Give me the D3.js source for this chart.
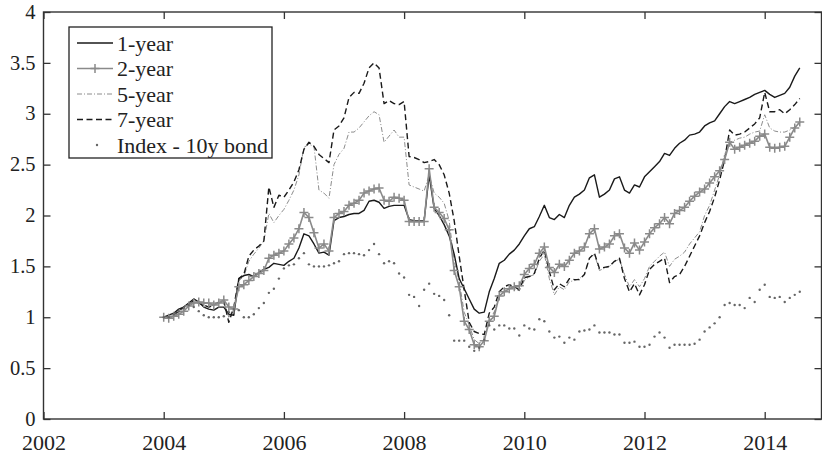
<!DOCTYPE html>
<html>
<head>
<meta charset="utf-8">
<script src="https://cdn.jsdelivr.net/npm/d3@7"></script>
<style>
  html, body { margin: 0; padding: 0; background: #fff; }
  svg { display: block; font-family: "Liberation Serif", "DejaVu Serif", serif; }
</style>
</head>
<body>
<div id="chart"></div>
<script>
// monthly observations starting Jan 2004
const startYear = 2004;

const oneYear = [
	1.00, 1.02, 1.04, 1.08, 1.10, 1.14, 1.18, 1.15, 1.10, 1.08, 1.07, 1.10,
	1.10, 1.03, 1.02, 1.38, 1.41, 1.42, 1.40, 1.44, 1.47, 1.49, 1.53, 1.52,
	1.51, 1.55, 1.58, 1.68, 1.82, 1.80, 1.72, 1.63, 1.64, 1.61, 1.95, 1.98,
	1.99, 2.01, 2.02, 2.02, 2.05, 2.14, 2.15, 2.13, 2.07, 2.09, 2.10, 2.10,
	2.10, 1.96, 1.95, 1.95, 1.95, 2.40, 2.07, 2.00, 1.91, 1.80, 1.62, 1.38,
	1.28, 1.18, 1.08, 1.04, 1.05, 1.25, 1.38, 1.53, 1.56, 1.62, 1.66, 1.72,
	1.80, 1.87, 1.89, 1.99, 2.10, 1.98, 1.96, 2.01, 1.98, 2.10, 2.18, 2.21,
	2.25, 2.37, 2.40, 2.18, 2.21, 2.25, 2.36, 2.38, 2.25, 2.22, 2.30, 2.28,
	2.38, 2.43, 2.48, 2.53, 2.61, 2.59, 2.66, 2.71, 2.74, 2.79, 2.80, 2.82,
	2.88, 2.91, 2.93, 3.00, 3.07, 3.12, 3.10, 3.12, 3.14, 3.16, 3.19, 3.21,
	3.23, 3.19, 3.16, 3.18, 3.20, 3.26, 3.37, 3.45
];

const twoYear = [
	1.00, 0.99, 1.01, 1.03, 1.06, 1.11, 1.14, 1.15, 1.14, 1.14, 1.12, 1.14,
	1.17, 1.10, 1.08, 1.30, 1.32, 1.36, 1.40, 1.43, 1.46, 1.58, 1.61, 1.63,
	1.65, 1.72, 1.78, 1.87, 2.03, 1.98, 1.83, 1.68, 1.72, 1.65, 1.98, 2.02,
	2.04, 2.10, 2.12, 2.15, 2.22, 2.24, 2.26, 2.27, 2.15, 2.14, 2.18, 2.17,
	2.15, 1.94, 1.94, 1.94, 1.94, 2.46, 2.08, 2.03, 1.97, 1.86, 1.46, 1.30,
	0.96, 0.88, 0.73, 0.71, 0.77, 0.96, 1.01, 1.21, 1.25, 1.28, 1.30, 1.31,
	1.42, 1.48, 1.52, 1.63, 1.69, 1.49, 1.44, 1.52, 1.50, 1.56, 1.63, 1.65,
	1.69, 1.82, 1.87, 1.67, 1.69, 1.72, 1.80, 1.82, 1.68, 1.63, 1.73, 1.66,
	1.74, 1.82, 1.88, 1.92, 1.98, 1.92, 2.02, 2.05, 2.08, 2.14, 2.19, 2.23,
	2.26, 2.32, 2.38, 2.44, 2.55, 2.72, 2.65, 2.67, 2.69, 2.71, 2.73, 2.78,
	2.80, 2.67, 2.66, 2.67, 2.68, 2.77, 2.86, 2.92
];

const fiveYear = [
	1.00, 1.00, 1.02, 1.05, 1.09, 1.12, 1.15, 1.14, 1.12, 1.10, 1.12, 1.14,
	1.15, 1.00, 1.08, 1.36, 1.40, 1.55, 1.62, 1.68, 1.75, 2.02, 1.93, 2.00,
	2.06, 2.15, 2.25, 2.40, 2.67, 2.70, 2.68, 2.25, 2.22, 2.17, 2.50, 2.60,
	2.66, 2.82, 2.82, 2.86, 2.92, 2.98, 3.02, 2.99, 2.72, 2.78, 2.84, 2.77,
	2.77, 2.30, 2.28, 2.26, 2.24, 2.40, 2.22, 2.18, 2.12, 1.95, 1.55, 1.35,
	1.05, 0.92, 0.78, 0.74, 0.78, 0.98, 1.05, 1.20, 1.26, 1.28, 1.28, 1.26,
	1.36, 1.40, 1.42, 1.55, 1.62, 1.38, 1.22, 1.30, 1.27, 1.35, 1.36, 1.38,
	1.42, 1.58, 1.62, 1.46, 1.48, 1.50, 1.55, 1.57, 1.42, 1.30, 1.37, 1.30,
	1.38, 1.50, 1.55, 1.60, 1.64, 1.50, 1.57, 1.60, 1.64, 1.72, 1.78, 1.84,
	2.00, 2.10, 2.25, 2.40, 2.60, 2.72, 2.74, 2.76, 2.77, 2.80, 2.82, 2.83,
	2.99, 2.86, 2.83, 2.82, 2.82, 2.84, 2.87, 2.92
];

const sevenYear = [
	1.00, 1.00, 1.02, 1.06, 1.10, 1.13, 1.16, 1.14, 1.12, 1.10, 1.12, 1.15,
	1.16, 0.95, 1.10, 1.38, 1.42, 1.60, 1.66, 1.70, 1.75, 2.28, 2.08, 2.20,
	2.18, 2.25, 2.33, 2.45, 2.65, 2.72, 2.68, 2.60, 2.56, 2.52, 2.84, 2.88,
	2.96, 3.16, 3.21, 3.20, 3.30, 3.45, 3.50, 3.45, 3.10, 3.13, 3.10, 3.09,
	3.12, 2.58, 2.57, 2.55, 2.52, 2.53, 2.55, 2.50, 2.40, 2.22, 1.95, 1.60,
	1.27, 0.95, 0.86, 0.84, 0.83, 1.04, 1.10, 1.25, 1.30, 1.32, 1.30, 1.27,
	1.39, 1.40, 1.43, 1.58, 1.66, 1.45, 1.27, 1.33, 1.30, 1.38, 1.37, 1.37,
	1.42, 1.58, 1.63, 1.48, 1.49, 1.50, 1.55, 1.58, 1.38, 1.25, 1.33, 1.22,
	1.32, 1.47, 1.52, 1.55, 1.58, 1.34, 1.40, 1.42, 1.50, 1.60, 1.70, 1.80,
	1.93, 2.04, 2.18, 2.35, 2.55, 2.84, 2.79, 2.80, 2.82, 2.86, 2.90, 2.96,
	3.21, 3.02, 3.02, 3.04, 3.00, 3.04, 3.09, 3.15
];

const bondIndex = [
	1.00, 1.00, 1.03, 1.06, 1.09, 1.12, 1.10, 1.06, 1.02, 1.00, 1.00, 1.00,
	1.01, 1.05, 1.08, 1.07, 1.00, 1.00, 1.03, 1.09, 1.14, 1.24, 1.28, 1.38,
	1.48, 1.51, 1.52, 1.58, 1.63, 1.52, 1.50, 1.50, 1.50, 1.51, 1.53, 1.55,
	1.62, 1.63, 1.63, 1.62, 1.61, 1.66, 1.72, 1.62, 1.53, 1.55, 1.53, 1.43,
	1.39, 1.22, 1.20, 1.11, 1.27, 1.33, 1.23, 1.21, 1.17, 1.02, 0.77, 0.77,
	0.77, 0.71, 0.67, 0.70, 0.78, 0.92, 0.88, 0.92, 0.92, 0.89, 0.89, 0.82,
	0.92, 0.89, 0.88, 0.98, 0.96, 0.86, 0.80, 0.81, 0.75, 0.80, 0.78, 0.86,
	0.87, 0.88, 0.92, 0.85, 0.85, 0.85, 0.83, 0.83, 0.75, 0.75, 0.76, 0.71,
	0.71, 0.73, 0.81, 0.85, 0.80, 0.70, 0.73, 0.73, 0.73, 0.73, 0.74, 0.78,
	0.86, 0.90, 0.94, 1.00, 1.12, 1.14, 1.12, 1.12, 1.09, 1.19, 1.15, 1.27,
	1.32, 1.20, 1.19, 1.20, 1.15, 1.19, 1.22, 1.25
];

const xTicks = [2002, 2004, 2006, 2008, 2010, 2012, 2014];
const yTicks = [0, 0.5, 1, 1.5, 2, 2.5, 3, 3.5, 4];
const legendLabels = ['1-year', '2-year', '5-year', '7-year', 'Index - 10y bond'];

const width = 822;
const height = 454;
const plotLeft = 43.5;
const plotRight = 821.5;
const plotTop = 12;
const plotBottom = 419;

const svg = d3
	.select('#chart')
	.append('svg')
	.attr('width', width)
	.attr('height', height);

svg.append('rect').attr('width', width).attr('height', height).attr('fill', '#fff');

const x = d3.scaleLinear().domain([2002, 2014.945]).range([plotLeft, plotRight]);
const y = d3.scaleLinear().domain([0, 4]).range([plotBottom, plotTop]);

const dateOf = i => startYear + i / 12;

const line = d3
	.line()
	.x((d, i) => x(dateOf(i)))
	.y(d => y(d));

const axisColor = '#333';
const tickLen = 7;

// series
const series = [
	{data: fiveYear, stroke: '#8c8c8c', width: 1, dash: '5,2,1,2'},
	{data: sevenYear, stroke: '#1a1a1a', width: 1.4, dash: '6,3.5'},
	{data: oneYear, stroke: '#1a1a1a', width: 1.4, dash: null},
	{data: twoYear, stroke: '#8a8a8a', width: 1.6, dash: null}
];

const plot = svg.append('g');

plot
	.selectAll('path.series')
	.data(series)
	.enter()
	.append('path')
	.attr('class', 'series')
	.attr('d', s => line(s.data))
	.attr('fill', 'none')
	.attr('stroke', s => s.stroke)
	.attr('stroke-width', s => s.width)
	.attr('stroke-dasharray', s => s.dash)
	.attr('stroke-linejoin', 'round');

// plus markers for the 2-year series
const plusSize = 4.5;
plot
	.selectAll('path.plus')
	.data(twoYear)
	.enter()
	.append('path')
	.attr('class', 'plus')
	.attr('d', (d, i) => {
		const px = x(dateOf(i));
		const py = y(d);
		return `M${px - plusSize},${py}H${px + plusSize}M${px},${py - plusSize}V${py + plusSize}`;
	})
	.attr('stroke', '#8a8a8a')
	.attr('stroke-width', 1.5);

// dotted index
plot
	.selectAll('circle.bond')
	.data(bondIndex)
	.enter()
	.append('circle')
	.attr('class', 'bond')
	.attr('cx', (d, i) => x(dateOf(i)))
	.attr('cy', d => y(d))
	.attr('r', 1.2)
	.attr('fill', '#666');

// frame and axes
const axisFont = 22;

const xAxis = svg
	.append('g')
	.attr('transform', `translate(0,${plotBottom})`)
	.call(d3.axisBottom(x).tickValues(xTicks).tickFormat(d3.format('d')).tickSizeInner(-tickLen).tickSizeOuter(0).tickPadding(15));

const yAxis = svg
	.append('g')
	.attr('transform', `translate(${plotLeft},0)`)
	.call(d3.axisLeft(y).tickValues(yTicks).tickFormat(d => String(d)).tickSizeInner(-tickLen).tickSizeOuter(0).tickPadding(8));

const xTop = svg
	.append('g')
	.attr('transform', `translate(0,${plotTop})`)
	.call(d3.axisTop(x).tickValues(xTicks).tickFormat('').tickSizeInner(-tickLen).tickSizeOuter(0));

const yRight = svg
	.append('g')
	.attr('transform', `translate(${plotRight},0)`)
	.call(d3.axisRight(y).tickValues(yTicks).tickFormat('').tickSizeInner(-tickLen).tickSizeOuter(0));

[xAxis, yAxis, xTop, yRight].forEach(g => {
	g.select('.domain').remove();
	g.selectAll('line').attr('stroke', axisColor).attr('stroke-width', 1.3);
	g.selectAll('text')
		.attr('fill', '#222')
		.style('font-family', '"Liberation Serif", serif')
		.style('font-size', `${axisFont}px`);
});

// y labels a touch smaller so the top one stays inside the picture
yAxis
	.selectAll('.tick text')
	.attr('x', -8)
	.attr('dy', '0.3em')
	.style('font-size', '20.5px');

svg
	.append('rect')
	.attr('x', plotLeft)
	.attr('y', plotTop)
	.attr('width', plotRight - plotLeft)
	.attr('height', plotBottom - plotTop)
	.attr('fill', 'none')
	.attr('stroke', axisColor)
	.attr('stroke-width', 1.4);

// legend
const legend = svg.append('g').attr('transform', 'translate(69,27)');

legend
	.append('rect')
	.attr('width', 203)
	.attr('height', 131)
	.attr('fill', '#fff')
	.attr('stroke', '#222')
	.attr('stroke-width', 1.3);

const legendStyle = [
	{stroke: '#1a1a1a', width: 1.4, dash: null, mark: null},
	{stroke: '#8a8a8a', width: 1.6, dash: null, mark: 'plus'},
	{stroke: '#8c8c8c', width: 1, dash: '5,2,1,2', mark: null},
	{stroke: '#1a1a1a', width: 1.4, dash: '6,3.5', mark: null},
	{stroke: null, width: 0, dash: null, mark: 'dot'}
];

const rowY = i => 16 + i * 25.5;

const rows = legend
	.selectAll('g.row')
	.data(legendLabels)
	.enter()
	.append('g')
	.attr('class', 'row')
	.attr('transform', (d, i) => `translate(0,${rowY(i)})`);

rows.each(function(d, i) {
	const g = d3.select(this);
	const st = legendStyle[i];
	if (st.stroke) {
		g.append('line')
			.attr('x1', 8)
			.attr('x2', 44)
			.attr('stroke', st.stroke)
			.attr('stroke-width', st.width)
			.attr('stroke-dasharray', st.dash);
	}
	if (st.mark === 'plus') {
		g.append('path')
			.attr('d', `M${26 - plusSize},0H${26 + plusSize}M26,${-plusSize}V${plusSize}`)
			.attr('stroke', '#8a8a8a')
			.attr('stroke-width', 1.5);
	}
	if (st.mark === 'dot') {
		g.append('circle').attr('cx', 28).attr('r', 1.2).attr('fill', '#666');
	}
	g.append('text')
		.attr('x', 48)
		.attr('dy', '0.35em')
		.attr('fill', '#222')
		.style('font-size', '22px')
		.text(d);
});
</script>
</body>
</html>
